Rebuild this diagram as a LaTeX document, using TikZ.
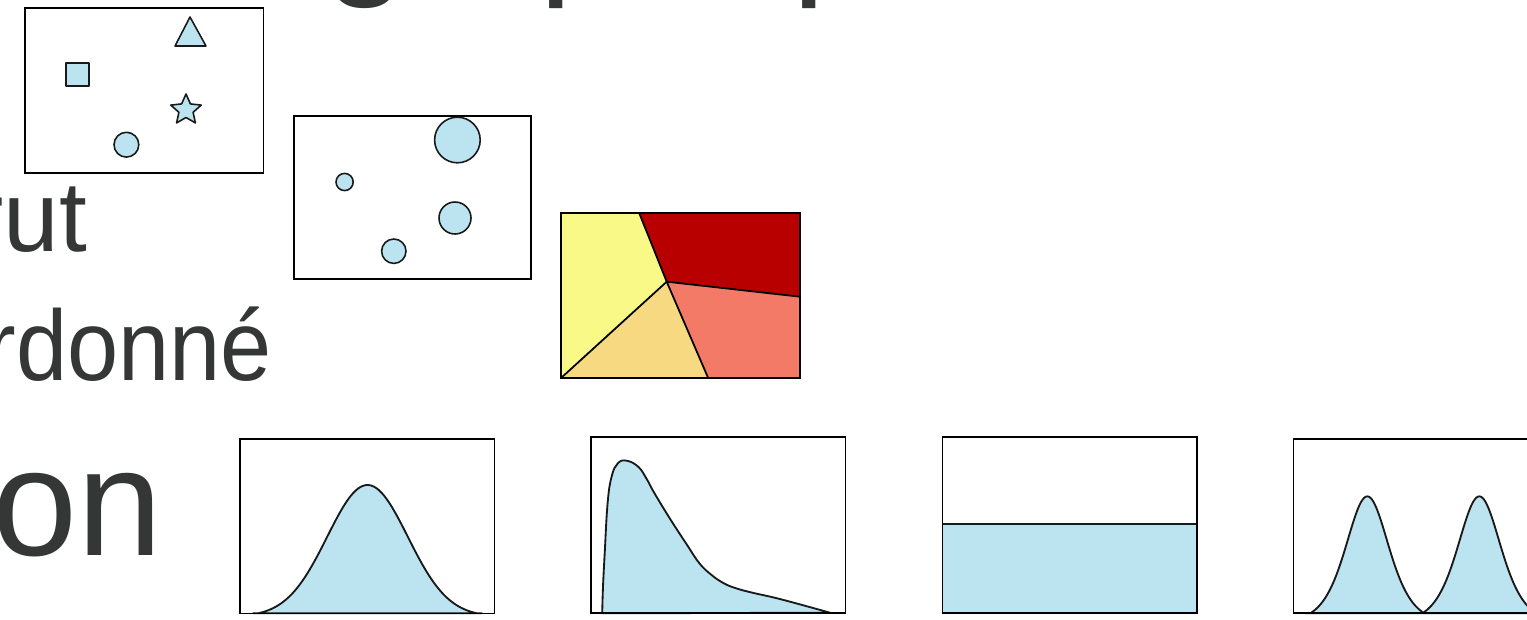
\documentclass[tikz,border=0pt]{standalone}
\usepackage{fontspec}
\setmainfont{Liberation Sans}
\definecolor{txtgray}{HTML}{353636}
\definecolor{lblue}{RGB}{187,228,240}
\definecolor{vyellow}{HTML}{F9F988}
\definecolor{vred}{HTML}{B80000}
\definecolor{vsalmon}{HTML}{F47A68}
\definecolor{vbeige}{HTML}{F7D981}
\begin{document}
\begin{tikzpicture}[x=0.02cm,y=-0.02cm,
  declare function={
    pk(\d)=max(0,117*(1/(cosh(\d/29))^2-0.0755)/0.9245);
    gs(\d)=max(0,128.3*(exp(-(\d/57)^2)-0.025)/0.975);
  },
  frame/.style={draw=black,line width=1.1pt},
  shp/.style={draw=black!90,fill=lblue,line width=0.9pt,line join=round},
  curve/.style={draw=black!90,fill=lblue,line width=1.05pt,line join=round},
  edge/.style={draw=black,line width=1.0pt},
  lbl/.style={text=txtgray,inner sep=0pt,outer sep=0pt},
  big/.style={lbl,font=\fontsize{56.9}{60}\selectfont},
  huge/.style={lbl,font=\fontsize{87}{90}\selectfont},
  ttl/.style={lbl,font=\fontsize{85.4}{90}\selectfont,anchor=base west}]
\useasboundingbox (0,0) rectangle (1527,619);
\clip (0,0) rectangle (1527,619);
\fill[white] (0,0) rectangle (1527,619);

% cut-off title (only descenders visible)
\node[ttl] (tg) at (324,-22.8) {g};
\node[ttl] (tp1) at (539,-22.8) {p};
\node[ttl] (tp2) at (792,-22.8) {p};

% left cut-off labels
\node[big,anchor=base east] (lrut) at (87,251.7) {rut};
\node[big,anchor=base east] (lord) at (272,380) {\scalebox{0.92}[1]{rdonné}};
\node[huge,anchor=base east] (lon) at (163,555) {on};

% box 1 : shapes
\fill[white] (25,8.3) rectangle (263.5,172.7);
\draw[frame] (25,8.3) rectangle (263.5,172.7);
\draw[shp] (190,17) -- (206,46) -- (175,46) -- cycle;
\draw[shp] (66,63) rectangle (89,86);
\draw[shp] (186,94) -- (181.6,103.9) -- (170.8,105.1) -- (178.9,112.3) -- (176.6,122.9)
  -- (186,117.5) -- (195.4,122.9) -- (193.1,112.3) -- (201.2,105.1) -- (190.4,103.9) -- cycle;
\draw[shp] (126.4,144.7) circle (12.4);

% box 2 : sizes
\fill[white] (293.6,115.7) rectangle (530.7,279.3);
\draw[frame] (293.6,115.7) rectangle (530.7,279.3);
\draw[shp] (344.6,182) circle (8.6);
\draw[shp] (457.4,140) circle (22.8);
\draw[shp] (455,218) circle (16);
\draw[shp] (393.8,251.2) circle (12.2);

% voronoi box
\coordinate (TL) at (560.7,213.3);
\coordinate (TR) at (800,213.3);
\coordinate (BR) at (800,378.3);
\coordinate (BL) at (560.7,378.3);
\coordinate (V) at (666.7,281.7);
\coordinate (T) at (639.3,213.3);
\coordinate (R) at (800,296.7);
\coordinate (B) at (708.3,378.3);
\fill[vyellow] (TL) -- (T) -- (V) -- (BL) -- cycle;
\fill[vred] (T) -- (TR) -- (R) -- (V) -- cycle;
\fill[vsalmon] (V) -- (R) -- (BR) -- (B) -- cycle;
\fill[vbeige] (BL) -- (V) -- (B) -- cycle;
\draw[edge] (T) -- (V) -- (R);
\draw[edge] (V) -- (B);
\draw[edge] (V) -- (BL);
\draw[frame] (TL) rectangle (BR);

% distribution A : normal
\fill[white] (240,439) rectangle (494.5,613.5);
\draw[curve] plot[domain=253:482,samples=90] (\x,{613.3-gs(\x-367.5)}) -- cycle;
\draw[frame] (240,439) rectangle (494.5,613.5);

% distribution B : skewed
\fill[white] (591,437) rectangle (845.5,613);
\draw[curve] plot[smooth,tension=0.7] coordinates {(602.2,613.3) (603,586.7) (604.7,553.3) (607.6,503.3) (611.6,476.7) (617.8,463.3) (626.7,460.7) (638.2,466.7) (646.3,478.3) (654.5,493.3) (670.8,520) (687.1,545) (699.4,563.3) (711.6,575) (723.9,583.3) (736.1,588.3) (752.4,592.7) (781,599.3) (830,612.7)} -- cycle;
\draw[frame] (591,437) rectangle (845.5,613);

% distribution C : uniform
\fill[white] (942.5,437) rectangle (1196.8,613);
\draw[curve] (942.5,524) rectangle (1196.8,613);
\draw[frame] (942.5,437) rectangle (1196.8,613);

% distribution D : bimodal
\fill[white] (1293.5,439.3) rectangle (1547,613.3);
\draw[curve] plot[domain=1305:1424.3,samples=90] (\x,{613.3-pk(\x-1367.3)})
  -- plot[domain=1424.3:1540,samples=90] (\x,{613.3-pk(\x-1479.3)}) -- cycle;
\draw[frame] (1293.5,439.3) rectangle (1547,613.3);
\end{tikzpicture}
\end{document}
